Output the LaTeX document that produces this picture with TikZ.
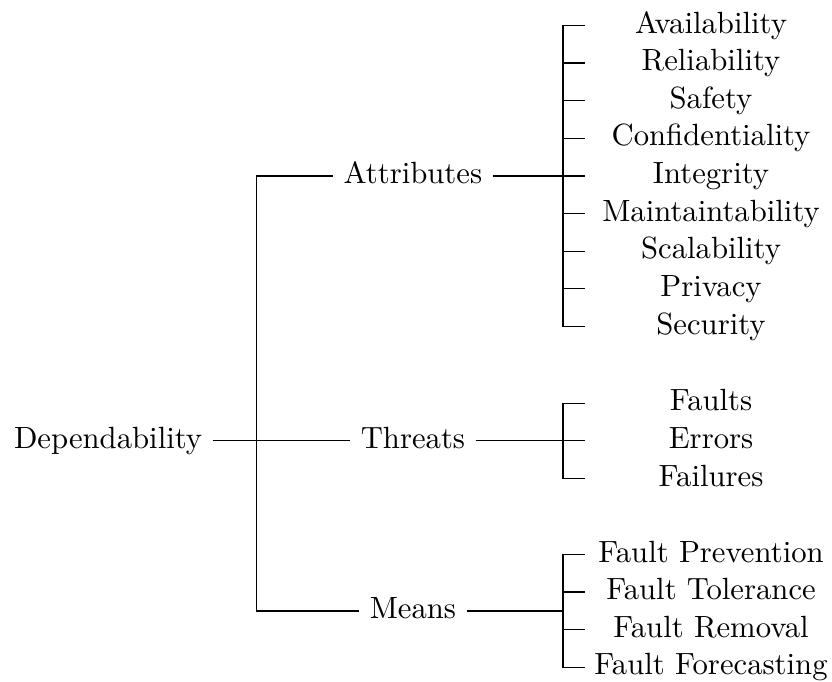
\documentclass[tikz,border=0pt]{standalone}
\usetikzlibrary{positioning}

\begin{document}
\begin{tikzpicture}[node distance=0pt, thin,
    every node/.style={text height=6.94pt, text depth=1.94pt},
    leaf/.style={inner sep=0pt, outer sep=0pt, minimum width=82.1pt, minimum height=12.25pt}]
    \useasboundingbox (0,0) rectangle (271pt,-222.1pt);

    \node (dep) at (35.2pt,-143.6pt) {Dependability};
    \node (attr) at (134.5pt,-57.3pt) {Attributes};
    \node (threats) at (134.5pt,-143.6pt) {Threats};
    \node (means) at (134.5pt,-199.0pt) {Means};

    % attributes
    \node[leaf] (a1) at (231.6pt,-8.3pt) {Availability};
    \node[leaf, below=of a1] (a2) {Reliability};
    \node[leaf, below=of a2] (a3) {Safety};
    \node[leaf, below=of a3] (a4) {Confidentiality};
    \node[leaf, below=of a4] (a5) {Integrity};
    \node[leaf, below=of a5] (a6) {Maintaintability};
    \node[leaf, below=of a6] (a7) {Scalability};
    \node[leaf, below=of a7] (a8) {Privacy};
    \node[leaf, below=of a8] (a9) {Security};

    % threats
    \node[leaf] (t1) at (231.6pt,-131.35pt) {Faults};
    \node[leaf, below=of t1] (t2) {Errors};
    \node[leaf, below=of t2] (t3) {Failures};

    % means
    \node[leaf] (m1) at (231.6pt,-180.6pt) {Fault Prevention};
    \node[leaf, below=of m1] (m2) {Fault Tolerance};
    \node[leaf, below=of m2] (m3) {Fault Removal};
    \node[leaf, below=of m3] (m4) {Fault Forecasting};

    \coordinate[right=14.3pt of dep.east] (rootfork);
    \coordinate[left=7.2pt of a5.west] (afork);
    \coordinate[left=7.2pt of t2.west] (tfork);
    \coordinate[left=7.2pt of m1.west] (mfork);

    \draw (dep.east) -- (threats.west);
    \draw (attr.west) -| (rootfork) |- (means.west);

    \draw (attr.east) -- (attr.east -| afork);
    \draw (a1.west) -| (afork) |- (a9.west);
    \draw (afork |- a2.west) -- (a2.west);
    \draw (afork |- a3.west) -- (a3.west);
    \draw (afork |- a4.west) -- (a4.west);
    \draw (afork |- a5.west) -- (a5.west);
    \draw (afork |- a6.west) -- (a6.west);
    \draw (afork |- a7.west) -- (a7.west);
    \draw (afork |- a8.west) -- (a8.west);

    \draw (threats.east) -- (threats.east -| tfork);
    \draw (t1.west) -| (tfork) |- (t3.west);
    \draw (tfork |- t2.west) -- (t2.west);

    \draw (means.east) -- (means.east -| mfork);
    \draw (m1.west) -| (mfork) |- (m4.west);
    \draw (mfork |- m2.west) -- (m2.west);
    \draw (mfork |- m3.west) -- (m3.west);
\end{tikzpicture}
\end{document}
